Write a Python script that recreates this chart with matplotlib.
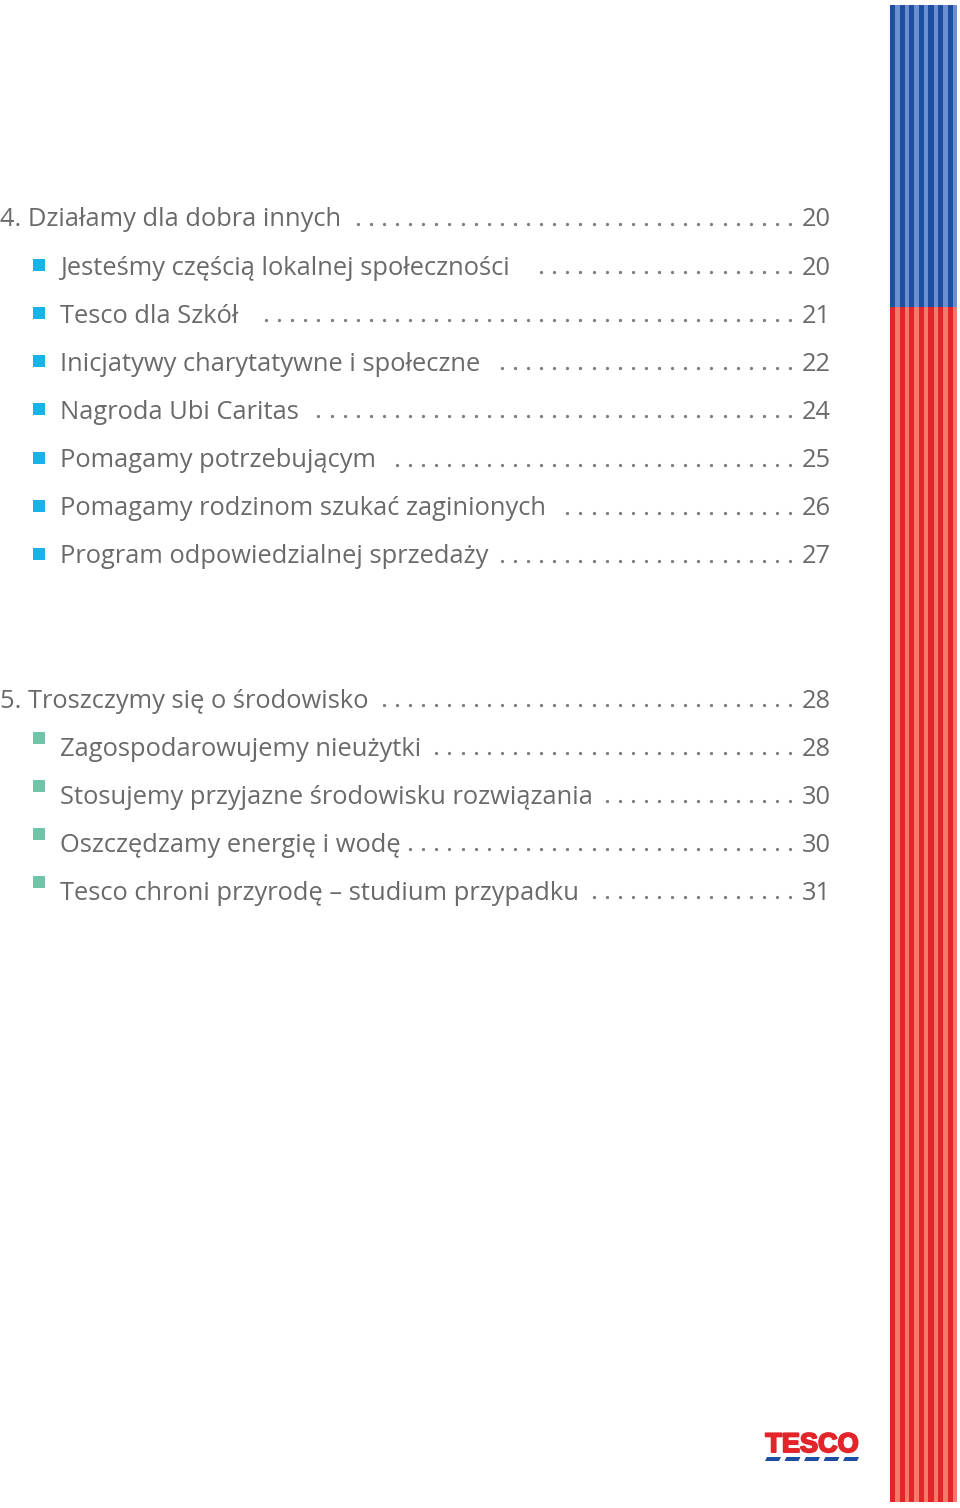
import matplotlib
matplotlib.use("Agg")
import matplotlib.pyplot as plt
import matplotlib.patheffects as pe
import numpy as np

# ---- data ----
section4_title = "4. Działamy dla dobra innych"
section4_page = "20"
section4_dots = 34
section4_items = [
    "Jesteśmy częścią lokalnej społeczności",
    "Tesco dla Szkół",
    "Inicjatywy charytatywne i społeczne",
    "Nagroda Ubi Caritas",
    "Pomagamy potrzebującym",
    "Pomagamy rodzinom szukać zaginionych",
    "Program odpowiedzialnej sprzedaży",
]
section4_pages = ["20", "21", "22", "24", "25", "26", "27"]
section4_item_dots = [20, 41, 23, 37, 31, 18, 23]

section5_title = "5. Troszczymy się o środowisko"
section5_page = "28"
section5_dots = 32
section5_items = [
    "Zagospodarowujemy nieużytki",
    "Stosujemy przyjazne środowisku rozwiązania",
    "Oszczędzamy energię i wodę",
    "Tesco chroni przyrodę – studium przypadku",
]
section5_pages = ["28", "30", "30", "31"]
section5_item_dots = [28, 15, 30, 16]

logo_text = "TESCO"

# ---- styling ----
W, H = 960, 1508
TEXT = "#6a6a6c"
DOT = "#7e7e80"
CYAN = "#1bb3e6"
GREEN = "#6fc5a6"
FONT = "Open Sans"
FS = 18.4

fig = plt.figure(figsize=(W / 100, H / 100), dpi=100)
ax = fig.add_axes([0, 0, 1, 1])
ax.set_xlim(0, W)
ax.set_ylim(H, 0)
ax.axis("off")

# stripes on the right
x0, x1 = 890, 957
period = 9.6
xs = np.arange(x0, x1 - 1, period)
blue_top, split, red_bottom = 5, 307, 1502
ax.bar(xs, split - blue_top, width=period, bottom=blue_top, align="edge",
       color="#6b8fd1", linewidth=0)
ax.bar(xs, split - blue_top, width=period * 0.55, bottom=blue_top, align="edge",
       color="#1d4ea0", linewidth=0)
ax.bar(xs, red_bottom - split, width=period, bottom=split, align="edge",
       color="#f47a6c", linewidth=0)
ax.bar(xs, red_bottom - split, width=period * 0.55, bottom=split, align="edge",
       color="#e2252b", linewidth=0)

DOT_END = 790
DOT_STEP = 13.1
PAGE_X = 831


def row(y, label, page, ndots, bullet=None, indent=False, by_off=0):
    tx = 60 if indent else 0
    ax.text(tx, y, label, fontsize=FS, family=FONT, color=TEXT,
            va="center_baseline", ha="left")
    ax.text(PAGE_X, y, page, fontsize=FS, family=FONT, color=TEXT,
            va="center_baseline", ha="right")
    dx = DOT_END - DOT_STEP * np.arange(ndots)
    ax.scatter(dx, np.full(ndots, y + 7), s=5.5, color=DOT, linewidths=0)
    if bullet is not None:
        ax.scatter([38.5], [y + by_off], marker="s", s=72, color=bullet, linewidths=0)


LINE = 48.1
y = 217
row(y, section4_title, section4_page, section4_dots)
for i, (lab, pg, nd) in enumerate(zip(section4_items, section4_pages, section4_item_dots)):
    row(y + LINE * (i + 1), lab, pg, nd, bullet=CYAN, indent=True)

y = 698
row(y, section5_title, section5_page, section5_dots)
for i, (lab, pg, nd) in enumerate(zip(section5_items, section5_pages, section5_item_dots)):
    row(y + LINE * (i + 1), lab, pg, nd, bullet=GREEN, indent=True, by_off=-8)

# Tesco logo
ax.text(812, 1445, logo_text, fontsize=19.5, family="Liberation Sans", weight="bold",
        color="#e2252b", ha="center", va="center",
        path_effects=[pe.withStroke(linewidth=1.4, foreground="#e2252b")])
dash_centers = np.linspace(773, 851, 5)
for c in dash_centers:
    ax.fill([c - 8, c + 6, c + 8, c - 6], [1461, 1461, 1457, 1457],
            color="#1d4ea0", linewidth=0)

fig.savefig("out.png", dpi=100, facecolor="white")
